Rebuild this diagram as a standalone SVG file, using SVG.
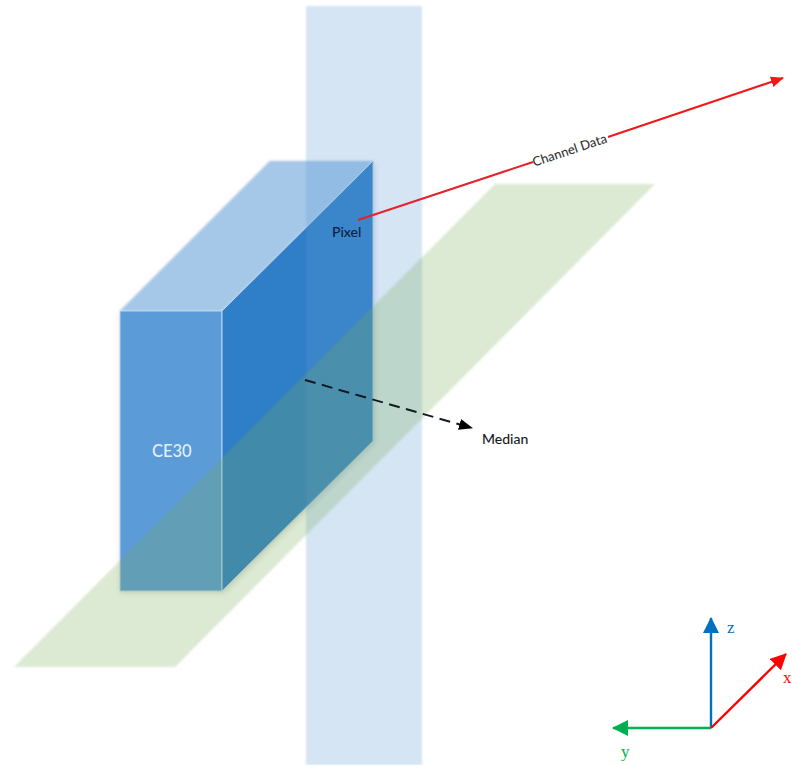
<svg xmlns="http://www.w3.org/2000/svg" width="792" height="765" viewBox="0 0 792 765">
<style>
.lbl{font-family:"Lato","Open Sans",sans-serif;font-weight:500}
.ax{font-family:"Liberation Serif",serif;font-size:17px}
.edge{stroke:#bcd6ee;stroke-width:1;stroke-linejoin:round}
</style>
<defs>
<filter id="soft" x="-5%" y="-5%" width="110%" height="110%"><feGaussianBlur stdDeviation="0.8"/></filter>
<filter id="shade" x="-10%" y="-10%" width="120%" height="120%"><feGaussianBlur stdDeviation="2.5"/></filter>
<marker id="mRed" markerUnits="userSpaceOnUse" markerWidth="13" markerHeight="11" refX="12" refY="5.5" orient="auto"><path d="M0 0L13 5.5L0 11z" fill="#f01818"/></marker>
<marker id="mBlack" markerUnits="userSpaceOnUse" markerWidth="14" markerHeight="11" refX="13" refY="5.5" orient="auto"><path d="M0 0L14 5.5L0 11z" fill="#000"/></marker>
<marker id="axB" markerUnits="userSpaceOnUse" markerWidth="16" markerHeight="16" refX="15" refY="8" orient="auto"><path d="M0 0L16 8L0 16z" fill="#0070c0"/></marker>
<marker id="axG" markerUnits="userSpaceOnUse" markerWidth="16" markerHeight="16" refX="15" refY="8" orient="auto"><path d="M0 0L16 8L0 16z" fill="#00b050"/></marker>
<marker id="axR" markerUnits="userSpaceOnUse" markerWidth="16" markerHeight="16" refX="15" refY="8" orient="auto"><path d="M0 0L16 8L0 16z" fill="#ff0000"/></marker>
</defs>
<rect width="792" height="765" fill="#ffffff"/>
<g id="ce30">
<polygon points="120,313 270,163 375,163 375,443 224,593 120,593" fill="#000000" fill-opacity="0.14" filter="url(#shade)"/>
<polygon points="120,311 270,161 373,161 222,311" fill="#a5c8e9" filter="url(#soft)"/>
<polygon points="120,311 222,311 222,591 120,591" fill="#5b9bd8" class="edge"/>
<polygon points="222,311 373,161 373,441 222,591" fill="#2f7ec8" class="edge"/>
</g>
<g id="vertical-plane">
<rect x="306" y="6" width="116" height="759" fill="#5b9bd5" fill-opacity="0.26" filter="url(#soft)"/>
</g>
<g id="horizontal-plane">
<polygon points="495,184 655,184 175,667 14,667" fill="#74aa55" fill-opacity="0.26" filter="url(#soft)"/>
</g>
<g id="labels">
<text class="lbl" x="152" y="457" font-size="16.5" fill="#e2f0fc">CE30</text>
<text class="lbl" x="332" y="237" font-size="14" fill="#0c2340">Pixel</text>
<text class="lbl" x="482" y="444" font-size="14" fill="#1a1a1a">Median</text>
<text class="lbl" x="0" y="0" font-size="13" fill="#333333" text-anchor="middle" transform="translate(571,154.5) rotate(-18.5)">Channel Data</text>
<text class="ax" x="727" y="633" fill="#0070c0">z</text>
<text class="ax" x="621" y="757" fill="#00b050">y</text>
<text class="ax" x="783" y="683" fill="#ff0000">x</text>
</g>
<g id="connectors" fill="none">
<path d="M358 220L533 162" stroke="#e8202c" stroke-width="2"/>
<path d="M608 137L783 78" stroke="#f01818" stroke-width="2" marker-end="url(#mRed)"/>
<path d="M305 380L472 428" stroke="#111a22" stroke-width="2" stroke-dasharray="11 6.5" marker-end="url(#mBlack)"/>
<path d="M711 728L711 618" stroke="#0070c0" stroke-width="2.4" marker-end="url(#axB)"/>
<path d="M711 728L613 728" stroke="#00b050" stroke-width="2.4" marker-end="url(#axG)"/>
<path d="M711 728L786 654" stroke="#ff0000" stroke-width="2.4" marker-end="url(#axR)"/>
</g>
</svg>
